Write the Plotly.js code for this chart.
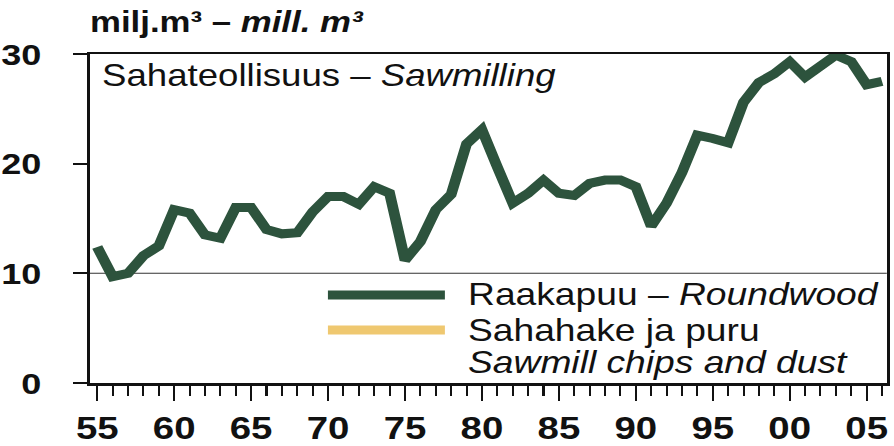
<!DOCTYPE html>
<html>
<head>
<meta charset="utf-8">
<script src="https://cdn.plot.ly/plotly-3.0.1.min.js"></script>
<style>
  html, body { margin: 0; padding: 0; background: #fff; overflow: hidden; }
  #chart { width: 745px; height: 446px; transform: scaleX(1.2); transform-origin: 0 0; }
</style>
</head>
<body>
<div id="chart"></div>
<script>
// ---- Data ----
const years = [1955,1956,1957,1958,1959,1960,1961,1962,1963,1964,
               1965,1966,1967,1968,1969,1970,1971,1972,1973,1974,
               1975,1976,1977,1978,1979,1980,1981,1982,1983,1984,
               1985,1986,1987,1988,1989,1990,1991,1992,1993,1994,
               1995,1996,1997,1998,1999,2000,2001,2002,2003,2004,
               2005,2006];
const roundwood = [12.4, 9.7,10.0,11.6,12.5,15.8,15.5,13.5,13.2,16.0,
                   16.0,14.0,13.6,13.7,15.6,17.0,17.0,16.3,17.9,17.3,
                   11.2,12.9,15.8,17.2,21.8,23.1,19.7,16.4,17.3,18.5,
                   17.3,17.1,18.2,18.5,18.5,17.9,14.3,16.4,19.2,22.6,
                   22.3,21.9,25.6,27.4,28.2,29.3,27.9,28.8,29.9,29.3,
                   27.2,27.5];
const chipsYears = [];
const chipsDust = [];
const seriesNames = ['Raakapuu – Roundwood', 'Sahahake ja puru – Sawmill chips and dust'];
const xTickVals = [1955,1960,1965,1970,1975,1980,1985,1990,1995,2000,2005];
const xTickText = ['55','60','65','70','75','80','85','90','95','00','05'];
const yTickVals = [0,10,20,30];
const yTickText = ['0','10','20','30'];

// ---- Style ----
const FONT = 'Liberation Sans, Arial, Helvetica, sans-serif';
const GREEN = '#2d533d';
const GOLD = '#efc870';
const INK = '#111111';

const traces = [
  { x: years, y: roundwood, type: 'scatter', mode: 'lines', name: seriesNames[0],
    line: { color: GREEN, width: 9 }, hoverinfo: 'skip' },
  { x: chipsYears, y: chipsDust, type: 'scatter', mode: 'lines', name: seriesNames[1],
    line: { color: GOLD, width: 9 }, hoverinfo: 'skip' }
];

const layout = {
  width: 745, height: 446,
  margin: { l: 75, r: 6, t: 54, b: 63 },
  paper_bgcolor: '#fff', plot_bgcolor: '#fff',
  showlegend: false,
  font: { family: FONT, color: INK },
  title: {
    text: 'milj.m³ – <i>mill. m³</i>',
    font: { family: FONT, size: 29, weight: 'bold', color: INK },
    xref: 'paper', x: 0, xanchor: 'left',
    yref: 'container', y: 0.951, yanchor: 'middle'
  },
  xaxis: {
    range: [1954.53, 2006.31],
    tickmode: 'array', tickvals: xTickVals, ticktext: xTickText,
    ticks: 'outside', ticklen: 15, tickwidth: 1.7, tickcolor: INK,
    ticklabelstandoff: 0,
    tickfont: { family: FONT, size: 32, weight: 'bold', color: INK },
    minor: { tickmode: 'linear', tick0: 1955, dtick: 1, ticks: 'outside', ticklen: 10, tickwidth: 1.7, tickcolor: INK, showgrid: false },
    showline: true, linewidth: 2.5, linecolor: INK, mirror: true,
    showgrid: false, zeroline: false, fixedrange: true
  },
  yaxis: {
    range: [0, 30],
    tickmode: 'array', tickvals: yTickVals, ticktext: yTickText,
    ticks: 'outside', ticklen: 12, tickwidth: 2, tickcolor: INK,
    ticklabelstandoff: 20,
    tickfont: { family: FONT, size: 30, weight: 'bold', color: INK },
    showline: true, linewidth: 2.5, linecolor: INK, mirror: true,
    showgrid: false, zeroline: false, fixedrange: true
  },
  shapes: [
    // legend box top edge
    { type: 'line', xref: 'paper', yref: 'y', x0: 0, x1: 1, y0: 10, y1: 10,
      line: { color: '#333', width: 1 }, layer: 'below' },
    // legend keys
    { type: 'line', xref: 'paper', yref: 'paper', x0: 0.2986, x1: 0.4454, y0: 0.2675, y1: 0.2675,
      line: { color: GREEN, width: 9 } },
    { type: 'line', xref: 'paper', yref: 'paper', x0: 0.2986, x1: 0.4454, y0: 0.161, y1: 0.161,
      line: { color: GOLD, width: 9 } }
  ],
  annotations: [
    { xref: 'paper', yref: 'paper', x: 0.0125, y: 0.936, xanchor: 'left', yanchor: 'middle',
      text: 'Sahateollisuus – <i>Sawmilling</i>', showarrow: false,
      font: { family: FONT, size: 30.5, color: INK } },
    { xref: 'paper', yref: 'paper', x: 0.4717, y: 0.2675, xanchor: 'left', yanchor: 'middle',
      text: 'Raakapuu – <i>Roundwood</i>', showarrow: false,
      font: { family: FONT, size: 31, color: INK } },
    { xref: 'paper', yref: 'paper', x: 0.4717, y: 0.161, xanchor: 'left', yanchor: 'middle',
      text: 'Sahahake ja puru', showarrow: false,
      font: { family: FONT, size: 31, color: INK } },
    { xref: 'paper', yref: 'paper', x: 0.4717, y: 0.0638, xanchor: 'left', yanchor: 'middle',
      text: '<i>Sawmill chips and dust</i>', showarrow: false,
      font: { family: FONT, size: 31, color: INK } }
  ]
};

Plotly.newPlot('chart', traces, layout, { staticPlot: true, displayModeBar: false });
</script>
</body>
</html>
